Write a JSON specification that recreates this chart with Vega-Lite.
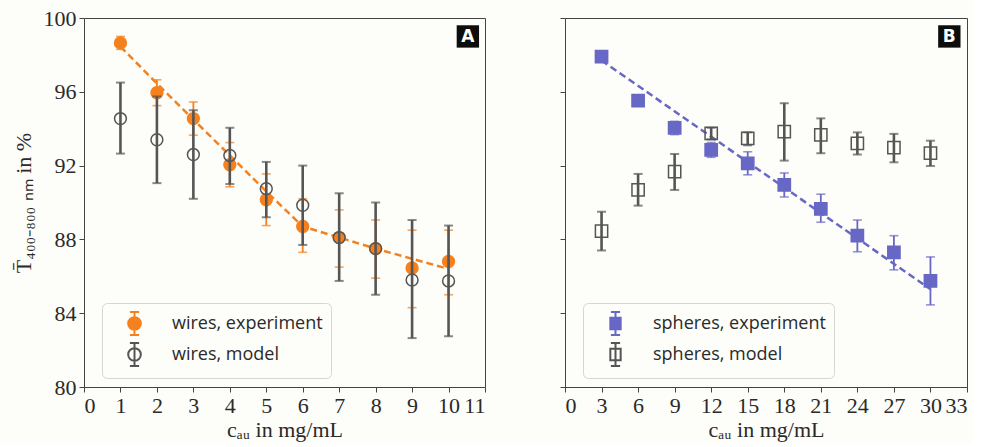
{
  "$schema": "https://vega.github.io/schema/vega-lite/v6.json",
  "background": "#fdfdf9",
  "padding": {"left": 11, "top": 6, "right": 5, "bottom": 2},
  "spacing": 80,
  "bounds": "flush",
  "datasets": {
    "wires": [
      {"x": 1, "y": 98.65, "lo": 98.3, "hi": 99.0, "series": "wires, experiment"},
      {"x": 2, "y": 95.95, "lo": 95.25, "hi": 96.65, "series": "wires, experiment"},
      {"x": 3, "y": 94.55, "lo": 93.65, "hi": 95.45, "series": "wires, experiment"},
      {"x": 4, "y": 92.05, "lo": 90.85, "hi": 93.25, "series": "wires, experiment"},
      {"x": 5, "y": 90.15, "lo": 88.75, "hi": 91.55, "series": "wires, experiment"},
      {"x": 6, "y": 88.7, "lo": 87.3, "hi": 90.2, "series": "wires, experiment"},
      {"x": 7, "y": 88.1, "lo": 86.5, "hi": 89.6, "series": "wires, experiment"},
      {"x": 8, "y": 87.5, "lo": 85.9, "hi": 89.05, "series": "wires, experiment"},
      {"x": 9, "y": 86.45, "lo": 84.3, "hi": 88.5, "series": "wires, experiment"},
      {"x": 10, "y": 86.8, "lo": 85.0, "hi": 88.5, "series": "wires, experiment"},
      {"x": 1, "y": 94.55, "lo": 92.65, "hi": 96.5, "series": "wires, model"},
      {"x": 2, "y": 93.4, "lo": 91.05, "hi": 95.75, "series": "wires, model"},
      {"x": 3, "y": 92.6, "lo": 90.2, "hi": 95.0, "series": "wires, model"},
      {"x": 4, "y": 92.55, "lo": 91.0, "hi": 94.05, "series": "wires, model"},
      {"x": 5, "y": 90.75, "lo": 89.2, "hi": 92.2, "series": "wires, model"},
      {"x": 6, "y": 89.85, "lo": 87.7, "hi": 92.0, "series": "wires, model"},
      {"x": 7, "y": 88.1, "lo": 85.75, "hi": 90.5, "series": "wires, model"},
      {"x": 8, "y": 87.5, "lo": 85.0, "hi": 90.0, "series": "wires, model"},
      {"x": 9, "y": 85.8, "lo": 82.65, "hi": 89.05, "series": "wires, model"},
      {"x": 10, "y": 85.75, "lo": 82.75, "hi": 88.75, "series": "wires, model"}
    ],
    "wiresFit": [
      {"x": 1, "y": 98.45}, {"x": 2, "y": 96.45}, {"x": 3, "y": 94.5}, {"x": 4, "y": 92.55},
      {"x": 5, "y": 90.6}, {"x": 6, "y": 88.7}, {"x": 7, "y": 88.1}, {"x": 8, "y": 87.5},
      {"x": 9, "y": 86.95}, {"x": 10, "y": 86.4}
    ],
    "spheres": [
      {"x": 3, "y": 97.9, "lo": 97.75, "hi": 98.05, "series": "spheres, experiment"},
      {"x": 6, "y": 95.52, "lo": 95.4, "hi": 95.65, "series": "spheres, experiment"},
      {"x": 9, "y": 94.05, "lo": 93.68, "hi": 94.4, "series": "spheres, experiment"},
      {"x": 12, "y": 92.85, "lo": 92.45, "hi": 93.25, "series": "spheres, experiment"},
      {"x": 15, "y": 92.12, "lo": 91.5, "hi": 92.75, "series": "spheres, experiment"},
      {"x": 18, "y": 90.95, "lo": 90.3, "hi": 91.6, "series": "spheres, experiment"},
      {"x": 21, "y": 89.65, "lo": 88.93, "hi": 90.45, "series": "spheres, experiment"},
      {"x": 24, "y": 88.2, "lo": 87.33, "hi": 89.05, "series": "spheres, experiment"},
      {"x": 27, "y": 87.3, "lo": 86.35, "hi": 88.2, "series": "spheres, experiment"},
      {"x": 30, "y": 85.75, "lo": 84.45, "hi": 87.05, "series": "spheres, experiment"},
      {"x": 3, "y": 88.45, "lo": 87.4, "hi": 89.5, "series": "spheres, model"},
      {"x": 6, "y": 90.68, "lo": 89.83, "hi": 91.55, "series": "spheres, model"},
      {"x": 9, "y": 91.68, "lo": 90.68, "hi": 92.63, "series": "spheres, model"},
      {"x": 12, "y": 93.75, "lo": 93.42, "hi": 94.05, "series": "spheres, model"},
      {"x": 15, "y": 93.48, "lo": 93.1, "hi": 93.8, "series": "spheres, model"},
      {"x": 18, "y": 93.84, "lo": 92.27, "hi": 95.38, "series": "spheres, model"},
      {"x": 21, "y": 93.66, "lo": 92.67, "hi": 94.56, "series": "spheres, model"},
      {"x": 24, "y": 93.21, "lo": 92.6, "hi": 93.8, "series": "spheres, model"},
      {"x": 27, "y": 92.97, "lo": 92.18, "hi": 93.72, "series": "spheres, model"},
      {"x": 30, "y": 92.67, "lo": 91.98, "hi": 93.35, "series": "spheres, model"}
    ],
    "spheresFit": [
      {"x": 3, "y": 97.7}, {"x": 30, "y": 85.3}
    ],
    "tagA": [{"x": 10.53, "y": 99.0, "label": "A"}],
    "tagB": [{"x": 31.55, "y": 99.0, "label": "B"}]
  },
  "resolve": {"scale": {"fill": "independent", "stroke": "independent", "x": "independent"}, "legend": {"fill": "independent", "stroke": "independent"}},
  "hconcat": [
    {
      "width": 401,
      "height": 369,
      "encoding": {
        "x": {"field": "x", "type": "quantitative", "scale": {"domain": [0, 11], "nice": false, "zero": false},
              "axis": {"values": [0,1,2,3,4,5,6,7,8,9,10,11], "title": "cₐᵤ in mg/mL"}},
        "y": {"field": "y", "type": "quantitative", "scale": {"domain": [80, 100], "nice": false, "zero": false},
              "axis": {"values": [80,84,88,92,96,100], "title": "T̄₄₀₀₋₈₀₀ ₙₘ in %"}}
      },
      "layer": [
        {"data": {"name": "wiresFit"}, "mark": {"type": "line", "color": "#f5801e", "strokeDash": [7, 4], "strokeWidth": 2.5}},
        {"data": {"name": "wires"}, "transform": [{"filter": "datum.series == 'wires, experiment'"}],
         "mark": {"type": "rule", "color": "#f5801e", "strokeWidth": 1.8},
         "encoding": {"y": {"field": "lo", "type": "quantitative"}, "y2": {"field": "hi"}}},
        {"data": {"name": "wires"}, "transform": [{"filter": "datum.series == 'wires, experiment'"}],
         "mark": {"type": "tick", "color": "#f5801e", "orient": "horizontal", "size": 9, "thickness": 1.6},
         "encoding": {"y": {"field": "lo", "type": "quantitative"}}},
        {"data": {"name": "wires"}, "transform": [{"filter": "datum.series == 'wires, experiment'"}],
         "mark": {"type": "tick", "color": "#f5801e", "orient": "horizontal", "size": 9, "thickness": 1.6},
         "encoding": {"y": {"field": "hi", "type": "quantitative"}}},
        {"data": {"name": "wires"}, "transform": [{"filter": "datum.series == 'wires, experiment'"}],
         "mark": {"type": "point", "shape": "circle", "size": 140, "strokeWidth": 1.5, "opacity": 1},
         "encoding": {
           "fill": {"field": "series", "type": "nominal", "scale": {"domain": ["wires, experiment", "wires, model"], "range": ["#f5801e", "transparent"]},
                    "legend": {"title": null, "orient": "none", "legendX": 18, "legendY": 285, "symbolType": "M0,-1V1M-0.4,-1H0.4M-0.4,1H0.4M-0.55,0A0.55,0.55,0,1,0,0.55,0A0.55,0.55,0,1,0,-0.55,0Z"}},
           "stroke": {"field": "series", "type": "nominal", "scale": {"domain": ["wires, experiment", "wires, model"], "range": ["#f5801e", "#555555"]},
                    "legend": {"title": null, "orient": "none", "legendX": 18, "legendY": 285, "symbolType": "M0,-1V1M-0.4,-1H0.4M-0.4,1H0.4M-0.55,0A0.55,0.55,0,1,0,0.55,0A0.55,0.55,0,1,0,-0.55,0Z"}}
         }},
        {"data": {"name": "wires"}, "transform": [{"filter": "datum.series == 'wires, model'"}],
         "mark": {"type": "rule", "color": "#555555", "strokeWidth": 2.6},
         "encoding": {"y": {"field": "lo", "type": "quantitative"}, "y2": {"field": "hi"}}},
        {"data": {"name": "wires"}, "transform": [{"filter": "datum.series == 'wires, model'"}],
         "mark": {"type": "tick", "color": "#555555", "orient": "horizontal", "size": 9, "thickness": 2},
         "encoding": {"y": {"field": "lo", "type": "quantitative"}}},
        {"data": {"name": "wires"}, "transform": [{"filter": "datum.series == 'wires, model'"}],
         "mark": {"type": "tick", "color": "#555555", "orient": "horizontal", "size": 9, "thickness": 2},
         "encoding": {"y": {"field": "hi", "type": "quantitative"}}},
        {"data": {"name": "wires"}, "transform": [{"filter": "datum.series == 'wires, model'"}],
         "mark": {"type": "point", "shape": "circle", "size": 140, "strokeWidth": 1.5, "opacity": 1},
         "encoding": {
           "fill": {"field": "series", "type": "nominal"},
           "stroke": {"field": "series", "type": "nominal"}
         }},
        {"data": {"name": "tagA"}, "mark": {"type": "square", "color": "#0d0d0d", "size": 500, "opacity": 1}},
        {"data": {"name": "tagA"}, "mark": {"type": "text", "color": "white", "font": "DejaVu Sans", "fontWeight": "bold", "fontSize": 17, "baseline": "middle", "align": "center", "dy": 1},
         "encoding": {"text": {"field": "label"}}}
      ]
    },
    {
      "width": 402,
      "height": 369,
      "encoding": {
        "x": {"field": "x", "type": "quantitative", "scale": {"domain": [0, 33], "nice": false, "zero": false},
              "axis": {"values": [0,3,6,9,12,15,18,21,24,27,30,33], "title": "cₐᵤ in mg/mL"}},
        "y": {"field": "y", "type": "quantitative", "scale": {"domain": [80, 100], "nice": false, "zero": false},
              "axis": {"values": [80,84,88,92,96,100], "labels": false, "title": null}}
      },
      "layer": [
        {"data": {"name": "spheresFit"}, "mark": {"type": "line", "color": "#6767c6", "strokeDash": [7, 4], "strokeWidth": 2.5}},
        {"data": {"name": "spheres"}, "transform": [{"filter": "datum.series == 'spheres, experiment'"}],
         "mark": {"type": "rule", "color": "#6767c6", "strokeWidth": 1.8},
         "encoding": {"y": {"field": "lo", "type": "quantitative"}, "y2": {"field": "hi"}}},
        {"data": {"name": "spheres"}, "transform": [{"filter": "datum.series == 'spheres, experiment'"}],
         "mark": {"type": "tick", "color": "#6767c6", "orient": "horizontal", "size": 9, "thickness": 1.6},
         "encoding": {"y": {"field": "lo", "type": "quantitative"}}},
        {"data": {"name": "spheres"}, "transform": [{"filter": "datum.series == 'spheres, experiment'"}],
         "mark": {"type": "tick", "color": "#6767c6", "orient": "horizontal", "size": 9, "thickness": 1.6},
         "encoding": {"y": {"field": "hi", "type": "quantitative"}}},
        {"data": {"name": "spheres"}, "transform": [{"filter": "datum.series == 'spheres, experiment'"}],
         "mark": {"type": "point", "shape": "square", "size": 150, "strokeWidth": 1.5, "opacity": 1},
         "encoding": {
           "fill": {"field": "series", "type": "nominal", "scale": {"domain": ["spheres, experiment", "spheres, model"], "range": ["#6767c6", "transparent"]},
                    "legend": {"title": null, "orient": "none", "legendX": 18, "legendY": 285, "symbolType": "M0,-1V1M-0.4,-1H0.4M-0.4,1H0.4M-0.45,-0.5H0.45V0.5H-0.45Z"}},
           "stroke": {"field": "series", "type": "nominal", "scale": {"domain": ["spheres, experiment", "spheres, model"], "range": ["#6767c6", "#555555"]},
                    "legend": {"title": null, "orient": "none", "legendX": 18, "legendY": 285, "symbolType": "M0,-1V1M-0.4,-1H0.4M-0.4,1H0.4M-0.45,-0.5H0.45V0.5H-0.45Z"}}
         }},
        {"data": {"name": "spheres"}, "transform": [{"filter": "datum.series == 'spheres, model'"}],
         "mark": {"type": "rule", "color": "#555555", "strokeWidth": 2.6},
         "encoding": {"y": {"field": "lo", "type": "quantitative"}, "y2": {"field": "hi"}}},
        {"data": {"name": "spheres"}, "transform": [{"filter": "datum.series == 'spheres, model'"}],
         "mark": {"type": "tick", "color": "#555555", "orient": "horizontal", "size": 9, "thickness": 2},
         "encoding": {"y": {"field": "lo", "type": "quantitative"}}},
        {"data": {"name": "spheres"}, "transform": [{"filter": "datum.series == 'spheres, model'"}],
         "mark": {"type": "tick", "color": "#555555", "orient": "horizontal", "size": 9, "thickness": 2},
         "encoding": {"y": {"field": "hi", "type": "quantitative"}}},
        {"data": {"name": "spheres"}, "transform": [{"filter": "datum.series == 'spheres, model'"}],
         "mark": {"type": "point", "shape": "square", "size": 150, "strokeWidth": 1.5, "opacity": 1},
         "encoding": {
           "fill": {"field": "series", "type": "nominal"},
           "stroke": {"field": "series", "type": "nominal"}
         }},
        {"data": {"name": "tagB"}, "mark": {"type": "square", "color": "#0d0d0d", "size": 500, "opacity": 1}},
        {"data": {"name": "tagB"}, "mark": {"type": "text", "color": "white", "font": "DejaVu Sans", "fontWeight": "bold", "fontSize": 17, "baseline": "middle", "align": "center", "dy": 1},
         "encoding": {"text": {"field": "label"}}}
      ]
    }
  ],
  "config": {
    "view": {"stroke": "#444444", "strokeWidth": 1},
    "axis": {
      "grid": false, "domainColor": "#444444", "tickColor": "#444444", "tickSize": 5,
      "labelFont": "Liberation Serif", "labelFontSize": 22, "labelColor": "#2a2a2a", "labelPadding": 3,
      "titleFont": "Liberation Serif", "titleFontSize": 22, "titleFontWeight": "normal", "titleColor": "#2a2a2a"
    },
    "axisX": {"titlePadding": 3},
    "axisY": {"titlePadding": 8},
    "legend": {
      "fillColor": "#fdfdf9", "strokeColor": "#d6d6d6", "cornerRadius": 5, "padding": 8,
      "labelFont": "Open Sans", "labelFontSize": 18, "labelColor": "#2a2a2a", "labelLimit": 400,
      "symbolSize": 529, "symbolStrokeWidth": 2, "rowPadding": 0, "labelOffset": 25, "symbolOffset": 12
    }
  }
}
